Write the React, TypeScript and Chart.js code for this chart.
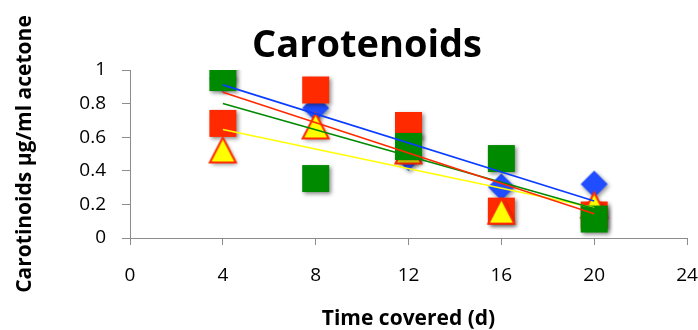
import React, { useEffect, useRef } from "react";
import { Chart, registerables } from "chart.js";

Chart.register(...registerables);

const DAYS = [4, 8, 12, 16, 20];
const BLUE_VALUES = [0.95, 0.774, 0.48, 0.304, 0.321];
const RED_VALUES = [0.682, 0.881, 0.67, 0.16, 0.137];
const GREEN_VALUES = [0.955, 0.354, 0.545, 0.473, 0.113];
const YELLOW_VALUES = [0.524, 0.667, 0.518, 0.16, 0.196];

const X_TICKS = [0, 4, 8, 12, 16, 20, 24];
const Y_TICKS = [0, 0.2, 0.4, 0.6, 0.8, 1];

const TITLE = "Carotenoids";
const X_TITLE = "Time covered (d)";
const Y_TITLE = "Carotinoids µg/ml acetone";

const FONT = "'Open Sans', 'Noto Sans', sans-serif";

function toPoints(xs: number[], ys: number[]) {
  return xs.map((x, i) => ({ x, y: ys[i] }));
}

function trend(xs: number[], ys: number[]) {
  const n = xs.length;
  const mx = xs.reduce((a, b) => a + b, 0) / n;
  const my = ys.reduce((a, b) => a + b, 0) / n;
  let sxy = 0;
  let sxx = 0;
  for (let i = 0; i < n; i++) {
    sxy += (xs[i] - mx) * (ys[i] - my);
    sxx += (xs[i] - mx) * (xs[i] - mx);
  }
  const b = sxy / sxx;
  const a = my - b * mx;
  const x0 = Math.min(...xs);
  const x1 = Math.max(...xs);
  return [
    { x: x0, y: a + b * x0 },
    { x: x1, y: a + b * x1 },
  ];
}

function makeMarker(kind: string): HTMLCanvasElement {
  const c = document.createElement("canvas");
  c.width = 45;
  c.height = 45;
  const ctx = c.getContext("2d")!;
  const cx = 22.5;
  const cy = 22.5;
  ctx.shadowColor = "rgba(0,0,0,0.45)";
  ctx.shadowBlur = 4;
  ctx.shadowOffsetX = 1.5;
  ctx.shadowOffsetY = 2;
  ctx.beginPath();
  if (kind === "red" || kind === "green") {
    ctx.rect(cx - 13.5, cy - 13.5, 27, 27);
    ctx.fillStyle = kind === "red" ? "#ff2a00" : "#008a00";
    ctx.fill();
  } else if (kind === "blue") {
    ctx.moveTo(cx, cy - 13.5);
    ctx.lineTo(cx + 13.5, cy);
    ctx.lineTo(cx, cy + 13.5);
    ctx.lineTo(cx - 13.5, cy);
    ctx.closePath();
    ctx.fillStyle = "#1f4dff";
    ctx.fill();
  } else {
    ctx.moveTo(cx, cy - 12.5);
    ctx.lineTo(cx + 13, cy + 12.5);
    ctx.lineTo(cx - 13, cy + 12.5);
    ctx.closePath();
    ctx.fillStyle = "#ffff00";
    ctx.fill();
    ctx.shadowColor = "transparent";
    ctx.lineWidth = 2;
    ctx.lineJoin = "miter";
    ctx.strokeStyle = "#ff2a00";
    ctx.stroke();
  }
  return c;
}

const titlePlugin = {
  id: "customTitle",
  afterDraw(chart: any) {
    const ctx = chart.ctx;
    ctx.save();
    ctx.font = `bold 38px ${FONT}`;
    ctx.fillStyle = "#000";
    ctx.textAlign = "center";
    ctx.textBaseline = "middle";
    ctx.fillText(TITLE, 367, 46);
    ctx.restore();
  },
};

export default function App() {
  const ref = useRef<HTMLCanvasElement>(null);

  useEffect(() => {
    if (!ref.current) return;
    const axisColor = "#8c8c8c";
    const lineDs = (data: any, color: string, order: number) => ({
      data,
      showLine: true,
      borderColor: color,
      borderWidth: 1.6,
      pointRadius: 0,
      fill: false,
      order,
    });
    const pointDs = (data: any, kind: string, order: number) => ({
      data,
      showLine: false,
      pointStyle: makeMarker(kind),
      pointRadius: 14,
      order,
    });

    const chart = new Chart(ref.current, {
      type: "scatter",
      data: {
        datasets: [
          lineDs(trend(DAYS, BLUE_VALUES), "#0a3cff", 0),
          lineDs(trend(DAYS, RED_VALUES), "#ff2a00", 0),
          lineDs(trend(DAYS, GREEN_VALUES), "#008a00", 0),
          lineDs(trend(DAYS, YELLOW_VALUES), "#ffff00", 0),
          pointDs(toPoints(DAYS, GREEN_VALUES), "green", 1),
          pointDs(toPoints(DAYS, YELLOW_VALUES), "yellow", 2),
          pointDs(toPoints(DAYS, RED_VALUES), "red", 3),
          pointDs(toPoints(DAYS, BLUE_VALUES), "blue", 4),
        ] as any,
      },
      options: {
        responsive: false,
        animation: false,
        devicePixelRatio: 1,
        layout: { autoPadding: false, padding: { top: 70, right: 3, bottom: 0, left: 0 } },
        plugins: {
          legend: { display: false },
          tooltip: { enabled: false },
          title: { display: false },
        },
        scales: {
          x: {
            type: "linear",
            min: 0,
            max: 24,
            afterBuildTicks: (s: any) => {
              s.ticks = X_TICKS.map((v) => ({ value: v }));
            },
            afterFit: (s: any) => {
              s.height = 92;
              s.paddingLeft = 0;
              s.paddingRight = 11;
            },
            grid: {
              display: true,
              drawOnChartArea: false,
              drawTicks: true,
              tickLength: 7,
              color: axisColor,
            },
            border: { display: true, color: axisColor, width: 1 },
            ticks: {
              color: "#000",
              padding: 19,
              font: { family: FONT, size: 19 },
              callback: (v: any) => String(v),
            },
            title: {
              display: true,
              text: X_TITLE,
              color: "#000",
              font: { family: FONT, size: 21, weight: "bold" },
              padding: { top: 0, bottom: -2 },
            },
          },
          y: {
            type: "linear",
            min: 0,
            max: 1,
            afterBuildTicks: (s: any) => {
              s.ticks = Y_TICKS.map((v) => ({ value: v }));
            },
            afterFit: (s: any) => {
              s.width = 130;
            },
            grid: {
              display: true,
              drawOnChartArea: false,
              drawTicks: true,
              tickLength: 8,
              color: axisColor,
            },
            border: { display: true, color: axisColor, width: 1 },
            ticks: {
              color: "#000",
              padding: 16,
              font: { family: FONT, size: 19 },
              callback: (v: any) => String(Number(Number(v).toFixed(1))),
            },
            title: {
              display: true,
              text: Y_TITLE,
              color: "#000",
              font: { family: FONT, size: 21, weight: "bold" },
              padding: { top: 12, bottom: 0 },
            },
          },
        },
      } as any,
      plugins: [titlePlugin],
    });
    return () => chart.destroy();
  }, []);

  return (
    <div style={{ position: "absolute", left: 0, top: 0, width: 698, height: 330, background: "#fff" }}>
      <canvas ref={ref} width={698} height={330} />
    </div>
  );
}
